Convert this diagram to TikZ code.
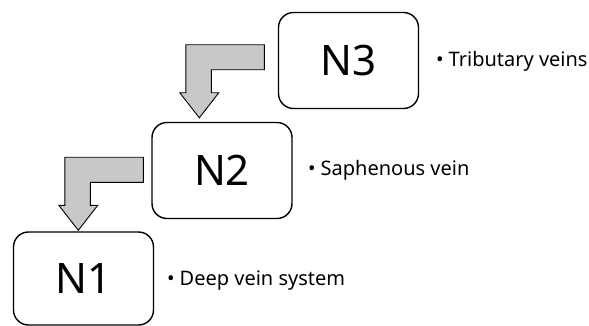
\documentclass[tikz,border=0pt]{standalone}
\usepackage{fontspec}
\setmainfont{Noto Sans}
\usetikzlibrary{calc}
\definecolor{arrowfill}{RGB}{200,200,200}
\tikzset{
  stagebox/.style={draw=black, line width=1.4pt, rounded corners=15pt, minimum width=140pt, minimum height=96pt, inner sep=0pt, font=\fontsize{42}{46}\selectfont},
  bullettext/.style={anchor=west, inner sep=0pt, font=\fontsize{20}{24}\selectfont},
  blockarrow/.style={draw=black, line width=0.9pt, fill=arrowfill, line join=miter},
  pics/bentarrow/.style={code={
    \draw[blockarrow] (65,-73) -- (-13.5,-73) -- (-13.5,-25) -- (-19.5,-25) -- (0,0) -- (19.5,-25) -- (12,-25) -- (12,-48) -- (65,-48) -- cycle;
  }}
}
\newcommand{\bul}{•\hspace{5pt}}
\begin{document}
\begin{tikzpicture}[x=1pt,y=-1pt]
\useasboundingbox (0,0) rectangle (589,326);
\node[stagebox] (N3) at (348.5,60.5) {N3};
\node[stagebox] (N2) at (222,170.5) {N2};
\node[stagebox, minimum height=93pt] (N1) at (83.5,278.5) {N1};
\node[bullettext] (L3) at (436,61) {\bul Tributary veins};
\node[bullettext] (L2) at (308,170.5) {\bul Saphenous vein};
\node[bullettext] (L1) at (167,281) {\bul Deep vein system};
\coordinate (T2) at ($(N2.north west)+(48,-4)$);
\coordinate (T1) at ($(N1.north west)+(65.5,-1)$);
\pic at (T2) {bentarrow};
\pic at (T1) {bentarrow};
\end{tikzpicture}
\end{document}
